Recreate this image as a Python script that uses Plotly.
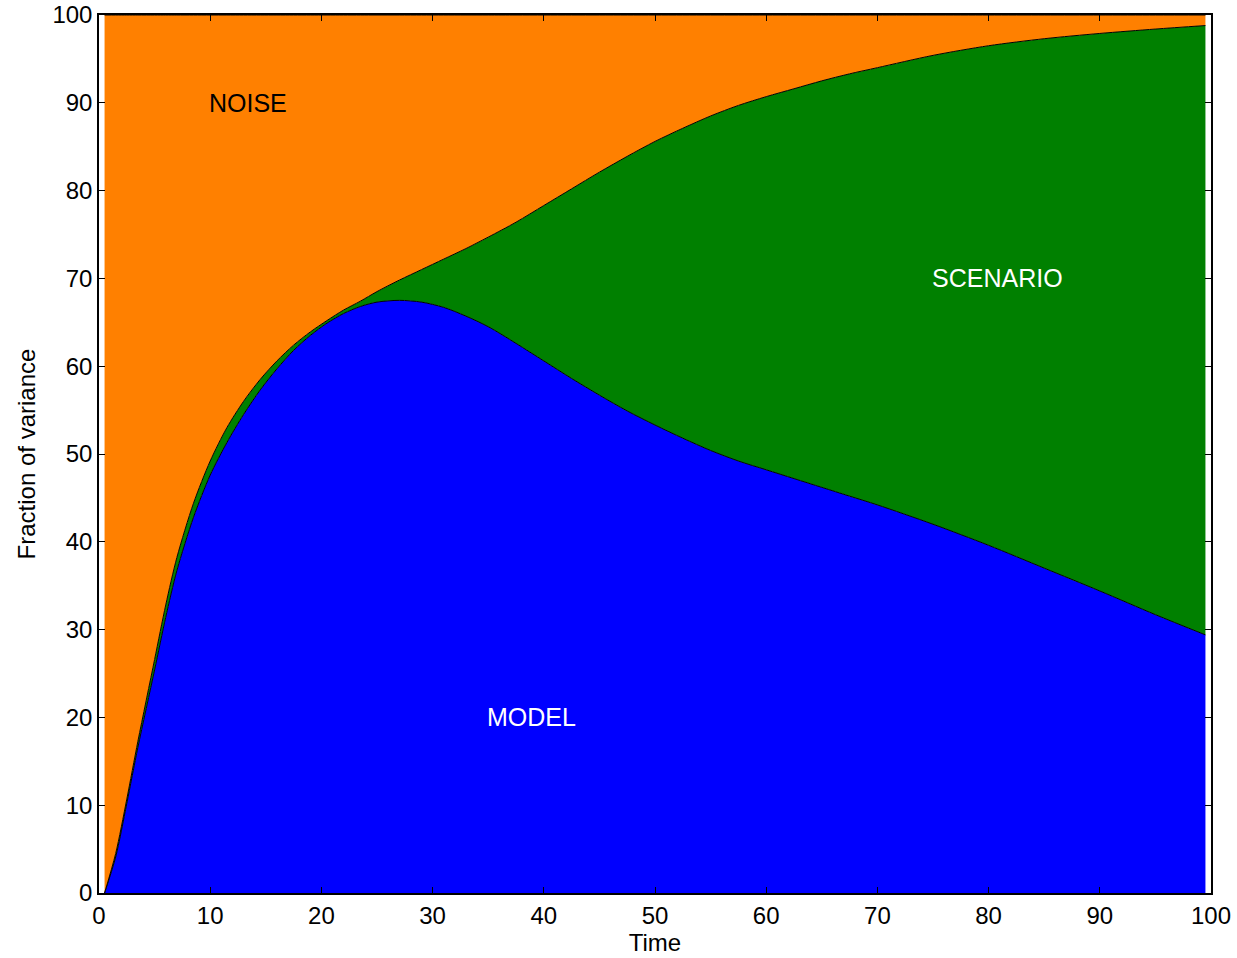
import plotly.graph_objects as go

# Lead time (years) at which each variance fraction is given
time = [0.5, 1.5, 2.5, 3.5, 5, 6, 7, 8.5, 10, 11.5, 13, 14.5, 16, 17.5, 19, 20.5,
        22, 23.5, 25, 27, 29, 31, 33, 35, 37.5, 40, 42.5, 45, 47.5, 50, 52.5,
        55, 57.5, 60, 62.5, 65, 67.5, 70, 75, 80, 85, 90, 95, 99.5]

# Percentage of total variance from model uncertainty
model = [0, 4.1, 10.2, 16.6, 25.4, 31.4, 36.7, 42.8, 47.6, 51.3, 54.5, 57.3, 59.7,
         61.8, 63.5, 64.9, 66.0, 66.8, 67.3, 67.5, 67.3, 66.7, 65.7, 64.5, 62.6,
         60.6, 58.6, 56.7, 54.9, 53.3, 51.8, 50.4, 49.2, 48.2, 47.2, 46.2, 45.2,
         44.2, 42.0, 39.6, 37.0, 34.4, 31.7, 29.4]

# Percentage of total variance from scenario uncertainty
scenario = [0, 0.4, 0.5, 0.7, 1.2, 1.4, 1.5, 1.6, 1.6, 1.7, 1.5, 1.2, 0.9, 0.6, 0.4,
            0.3, 0.4, 0.6, 1.2, 2.3, 3.7, 5.5, 7.7, 10.2, 13.8, 17.7, 21.6, 25.4,
            29.0, 32.3, 35.3, 38.1, 40.5, 42.5, 44.4, 46.3, 48.1, 49.8, 53.4, 56.9,
            60.3, 63.5, 66.7, 69.4]

# Internal variability makes up the remainder
noise = [100 - m - s for m, s in zip(model, scenario)]

x_ticks = list(range(0, 101, 10))
y_ticks = list(range(0, 101, 10))

FONT = "Liberation Sans, Arial, Helvetica, sans-serif"

fig = go.Figure()
for name, values, colour in [("MODEL", model, "#0000FF"),
                             ("SCENARIO", scenario, "#008000"),
                             ("NOISE", noise, "#FF8000")]:
    fig.add_trace(go.Scatter(
        x=time, y=values, name=name, mode="lines", stackgroup="variance",
        line=dict(color="black", width=1, shape="spline", smoothing=0.8),
        fillcolor=colour, hoverinfo="skip", showlegend=False,
    ))

labels = [("NOISE", 10, 90, "black"),
          ("SCENARIO", 75, 70, "white"),
          ("MODEL", 35, 20, "white")]
for text, lx, ly, col in labels:
    fig.add_annotation(x=lx, y=ly, text=text, showarrow=False, xanchor="left",
                       yanchor="middle", xshift=-3,
                       font=dict(family=FONT, size=25, color=col))

axis_common = dict(
    range=[0, 100], showgrid=False, zeroline=False, automargin=False,
    showline=True, linecolor="black", linewidth=1.5, mirror="ticks",
    ticks="inside", ticklen=6, tickwidth=1, tickcolor="black",
    tickfont=dict(family=FONT, size=24, color="black"),
)

fig.update_xaxes(**axis_common, tickvals=x_ticks,
                 ticktext=[str(v) for v in x_ticks],
                 title=dict(text="Time", font=dict(family=FONT, size=24, color="black"),
                            standoff=2))
fig.update_yaxes(**axis_common, tickvals=y_ticks,
                 ticktext=[str(v) for v in y_ticks],
                 title=dict(text="Fraction of variance",
                            font=dict(family=FONT, size=24, color="black"),
                            standoff=10))

fig.update_layout(
    width=1237, height=958,
    margin=dict(l=99, r=26, t=15, b=65),
    paper_bgcolor="white", plot_bgcolor="white",
    font=dict(family=FONT, color="black"),
)

fig.write_html("out.html")
